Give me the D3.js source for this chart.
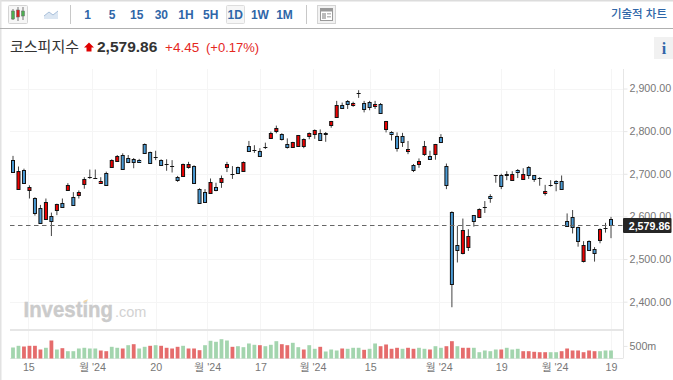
<!DOCTYPE html>
<html>
<head>
<meta charset="utf-8">
<script src="https://cdnjs.cloudflare.com/ajax/libs/d3/7.8.5/d3.min.js"></script>
<style>
  html, body { margin: 0; padding: 0; background: #fff; }
  svg { display: block; }
  text { font-family: "Liberation Sans", "Noto Sans CJK KR", sans-serif; }
</style>
</head>
<body>
<svg id="chart" width="673" height="380"></svg>
<script>
const opens = [2732,2664,2710,2660,2643,2619,2594,2600,2614,2631,2662,2645,2650,2675,2692,2691,2679,2703,2716,2730,
  2743,2736,2734,2732,2770,2750,2740,2732,2723,2719,2693,2695,2714,2718,2665,2657,2656,2668,2680,2715,
  2699,2716,2707,2764,2756,2753,2763,2784,2800,2793,2771,2763,2765,2765,2789,2792,2796,2796,2814,2833,
  2861,2871,2861,2889,2867,2868,2860,2864,2804,2799,2789,2788,2753,2720,2724,2746,2742,2745,2786,2718,
  2611,2532,2513,2530,2603,2599,2622,2648,2696,2698,2699,2685,2710,2688,2716,2696,2690,2656,2674,2683,
  2683,2590,2598,2575,2496,2542,2524,2546,2572,2593]
const closes = [2703,2706,2680,2668,2608,2584,2633,2589,2628,2621,2674,2627,2657,2687,2692,2691,2683,2675,2732,2742,
  2711,2726,2726,2728,2750,2724,2740,2721,2723,2719,2687,2722,2722,2677,2633,2634,2681,2660,2689,2723,
  2699,2702,2727,2753,2756,2742,2763,2796,2807,2781,2763,2774,2790,2782,2796,2802,2779,2793,2823,2861,
  2855,2864,2866,2889,2853,2857,2864,2842,2823,2795,2762,2774,2757,2709,2730,2764,2736,2769,2775,2674,
  2441,2521,2567,2555,2588,2617,2622,2643,2696,2672,2696,2699,2705,2699,2697,2686,2690,2660,2674,2678,
  2664,2579,2575,2542,2534,2521,2514,2571,2572,2580]
const highs = [2742,2717,2712,2673,2645,2627,2642,2609,2630,2642,2678,2657,2661,2692,2710,2710,2692,2705,2734,2744,
  2748,2744,2737,2735,2771,2752,2754,2734,2734,2732,2695,2724,2728,2720,2666,2664,2689,2679,2696,2728,
  2718,2717,2729,2777,2767,2760,2773,2799,2813,2795,2783,2775,2791,2783,2797,2804,2804,2798,2824,2871,
  2867,2873,2869,2896,2871,2871,2871,2866,2824,2800,2797,2796,2777,2723,2736,2777,2754,2770,2793,2724,
  2612,2578,2595,2570,2603,2619,2636,2652,2697,2700,2706,2706,2711,2713,2718,2697,2692,2674,2685,2685,
  2696,2607,2615,2576,2542,2544,2528,2572,2585,2599]
const lows = [2703,2663,2678,2642,2602,2583,2593,2554,2603,2620,2661,2626,2642,2665,2688,2688,2678,2674,2715,2729,
  2710,2725,2713,2726,2749,2724,2732,2720,2707,2703,2681,2695,2712,2676,2632,2634,2655,2659,2667,2704,
  2688,2702,2706,2752,2749,2740,2758,2783,2795,2778,2759,2762,2763,2760,2781,2782,2778,2775,2808,2832,
  2854,2852,2857,2878,2844,2849,2852,2841,2797,2778,2752,2763,2746,2704,2714,2742,2733,2733,2772,2664,
  2387,2492,2511,2519,2576,2598,2608,2632,2679,2664,2685,2684,2690,2688,2688,2681,2672,2649,2670,2659,
  2663,2578,2560,2529,2492,2520,2494,2537,2562,2549]

// millions, green when volumeUp is 1
const volumes = [437,504,476,504,504,357,425,715,357,409,290,290,397,425,397,397,318,290,464,425,
  397,528,568,397,464,504,528,504,425,397,464,504,397,397,330,528,703,663,766,715,
  464,488,449,596,544,528,488,544,687,568,528,623,449,357,528,385,464,278,357,318,
  397,385,425,425,345,385,596,488,556,385,425,385,425,385,425,385,357,488,425,488,
  687,488,425,425,425,250,318,290,357,357,425,357,385,290,290,266,250,250,250,250,
  290,397,318,318,250,318,290,290,318,318]
const volumeUp = [1,1,0,0,0,0,1,0,1,0,1,1,1,1,1,1,0,0,1,1,
  0,1,0,1,1,0,1,0,0,0,0,1,0,0,0,1,1,1,1,1,
  0,1,1,1,1,0,1,1,1,0,0,1,1,0,1,1,0,1,1,1,
  0,1,1,1,0,1,1,0,0,0,0,1,0,0,1,1,0,1,1,0,
  0,1,0,0,1,1,1,1,1,0,1,1,1,0,0,0,0,0,1,1,
  0,0,0,0,0,0,0,1,1,1]

const priceTicks = [2400, 2500, 2600, 2700, 2800, 2900]
const volumeTicks = [500]
// date ticks sit between sessions where the date itself had no trading
const dateTickPos = [2.8, 14.4, 26, 35.4, 45.1, 54.6, 65.1, 77.6, 89, 98.7, 109]
const dateTickLabels = ['15', "월 '24", '20', "월 '24", '17', "월 '24", '15', "월 '24", '19', "월 '24", '19']
const intervals = ['1', '5', '15', '30', '1H', '5H', '1D', '1W', '1M']
const lastPrice = 2579.86

const svg = d3.select('#chart')

const plotLeft = 10
const plotRight = 623
const plotTop = 69
const volBase = 358.5

const x = d3.scaleLinear().domain([0, 109]).range([13, 611])
const y = d3.scaleLinear().domain([2400, 2900]).range([301.7, 88.5])
const yVol = d3.scaleLinear().domain([0, 500]).range([volBase, 345.9])

// page frame
svg.append('rect').attr('width', 673).attr('height', 1.5).attr('fill', '#dcdcdc')
svg.append('rect').attr('width', 1.5).attr('height', 380).attr('fill', '#e2e2e2')
svg.append('rect').attr('y', 28).attr('width', 673).attr('height', 1).attr('fill', '#b0b0b0')

// toolbar
const toolbar = svg.append('g')
toolbar.append('rect').attr('x', 8.5).attr('y', 5.5).attr('width', 19).attr('height', 18)
  .attr('rx', 1).attr('fill', '#f6f6f6').attr('stroke', '#d4d4d4')
const iconCandles = [[13, 10, 18, '#4caf50', 9, 20], [18, 9, 16, '#d92020', 7, 21], [23, 10, 15, '#4caf50', 7, 20]]
iconCandles.forEach(c => {
  toolbar.append('line').attr('x1', c[0]).attr('x2', c[0]).attr('y1', c[4]).attr('y2', c[5]).attr('stroke', '#777')
  toolbar.append('rect').attr('x', c[0] - 1.5).attr('y', c[1] + 1).attr('width', 3).attr('height', c[2] - c[1])
    .attr('fill', c[3]).attr('stroke', '#666').attr('stroke-width', 0.5)
})
toolbar.append('path').attr('d', 'M44 16L49 12L53 15L58 11V19H44Z').attr('fill', '#dbe6f2')
toolbar.append('path').attr('d', 'M44 16L49 12L53 15L58 11').attr('fill', 'none').attr('stroke', '#a9c0da')
toolbar.append('rect').attr('x', 70).attr('y', 5).attr('width', 1).attr('height', 19).attr('fill', '#c8c8c8')
toolbar.append('rect').attr('x', 226.5).attr('y', 5.5).attr('width', 18).attr('height', 18)
  .attr('rx', 1).attr('fill', '#f6f6f6').attr('stroke', '#dddddd')
const intervalX = d3.scalePoint().domain(intervals).range([87.5, 284.5])
toolbar.selectAll('text.interval')
  .data(intervals)
  .join('text')
  .attr('class', 'interval')
  .attr('x', d => intervalX(d))
  .attr('y', 18.5)
  .attr('text-anchor', 'middle')
  .attr('font-size', 12)
  .attr('font-weight', 700)
  .attr('fill', '#2f66a8')
  .text(d => d)
toolbar.append('rect').attr('x', 306).attr('y', 5).attr('width', 1).attr('height', 19).attr('fill', '#c8c8c8')
toolbar.append('rect').attr('x', 317.5).attr('y', 5.5).attr('width', 18).attr('height', 18)
  .attr('fill', '#f2f2f2').attr('stroke', '#d4d4d4')
toolbar.append('rect').attr('x', 320.5).attr('y', 8.5).attr('width', 12).attr('height', 12)
  .attr('fill', '#fff').attr('stroke', '#999')
toolbar.append('rect').attr('x', 321).attr('y', 9).attr('width', 11).attr('height', 2.5).attr('fill', '#999')
toolbar.append('rect').attr('x', 322).attr('y', 13).attr('width', 4).attr('height', 6).attr('fill', '#bbb')
toolbar.append('rect').attr('x', 327).attr('y', 13).attr('width', 4).attr('height', 1.5).attr('fill', '#bbb')
toolbar.append('rect').attr('x', 327).attr('y', 16).attr('width', 4).attr('height', 1.5).attr('fill', '#bbb')
toolbar.append('text').attr('x', 667).attr('y', 18).attr('text-anchor', 'end')
  .attr('font-size', 11.5).attr('font-weight', 500).attr('fill', '#2f66a8').text('기술적 차트')

// title row
svg.append('text').attr('x', 10).attr('y', 51.5).attr('font-size', 15).attr('fill', '#333').text('코스피지수')
svg.append('path').attr('d', 'M89 42.5L94 47.5H91.5V51.5H86.5V47.5H84Z').attr('fill', '#e00000')
svg.append('text').attr('x', 97).attr('y', 52).attr('font-size', 15.5).attr('font-weight', 700)
  .attr('fill', '#333').text(d3.format(',.2f')(lastPrice))
svg.append('text').attr('x', 165).attr('y', 51.5).attr('font-size', 13.5).attr('fill', '#e5281f').text('+4.45')
svg.append('text').attr('x', 206).attr('y', 51.5).attr('font-size', 13).attr('fill', '#e5281f').text('(+0.17%)')
svg.append('rect').attr('x', 654).attr('y', 37).attr('width', 19).attr('height', 22).attr('fill', '#f1f1f1')
svg.append('text').attr('x', 664).attr('y', 54).attr('text-anchor', 'middle').attr('font-size', 16)
  .attr('font-weight', 700).attr('fill', '#2f66a8').style('font-family', '"Liberation Serif", serif').text('i')

// grid
svg.append('g').selectAll('line')
  .data(priceTicks)
  .join('line')
  .attr('x1', plotLeft).attr('x2', plotRight)
  .attr('y1', d => Math.round(y(d)) + 0.5).attr('y2', d => Math.round(y(d)) + 0.5)
  .attr('stroke', '#f5f5f5')
svg.append('g').selectAll('line')
  .data(dateTickPos)
  .join('line')
  .attr('x1', d => Math.round(x(d)) + 0.5).attr('x2', d => Math.round(x(d)) + 0.5)
  .attr('y1', plotTop).attr('y2', volBase)
  .attr('stroke', '#f5f5f5')

// watermark
svg.append('text').attr('x', 23.5).attr('y', 317).attr('font-size', 21.5).attr('font-weight', 700)
  .attr('textLength', 89.5).attr('lengthAdjust', 'spacingAndGlyphs')
  .attr('fill', '#cbcbcb').attr('stroke', '#cbcbcb').attr('stroke-width', 0.4).text('Investing')
svg.append('text').attr('x', 115).attr('y', 317).attr('font-size', 14.5)
  .attr('fill', '#d2d2d2').text('.com')
svg.append('path').attr('d', 'M83 302.5Q85 299 88 299.5Q87 302.5 83 302.5Z').attr('fill', '#f4d9a8')

// panel separator and axis rules
svg.append('rect').attr('x', plotLeft).attr('y', 329).attr('width', plotRight - plotLeft).attr('height', 2).attr('fill', '#e6e6e6')
svg.append('line').attr('x1', plotLeft).attr('x2', plotRight).attr('y1', 358.5).attr('y2', 358.5).attr('stroke', '#e6e6e6')

// volume
svg.append('g').selectAll('rect')
  .data(volumes)
  .join('rect')
  .attr('x', (d, i) => x(i) - 1.9)
  .attr('width', 3.8)
  .attr('y', d => yVol(d))
  .attr('height', d => yVol(0) - yVol(d))
  .attr('fill', (d, i) => volumeUp[i] ? '#a3d5ae' : '#e56c6c')

// candles, left on sub pixel x so the edges soften like the original
const candles = svg.append('g').selectAll('g')
  .data(opens)
  .join('g')
candles.append('line')
  .attr('x1', (d, i) => x(i))
  .attr('x2', (d, i) => x(i))
  .attr('y1', (d, i) => y(highs[i]))
  .attr('y2', (d, i) => y(lows[i]))
  .attr('stroke', '#444')
// a zero height rect is not painted at all, dojis need a sliver for the stroke
candles.append('rect')
  .attr('x', (d, i) => x(i) - 1.5)
  .attr('width', 3)
  .attr('y', (d, i) => Math.round(y(Math.max(d, closes[i]))) + 0.5)
  .attr('height', (d, i) => Math.max(0.01, Math.round(Math.abs(y(d) - y(closes[i])))))
  .attr('fill', (d, i) => closes[i] > d ? '#ee0000' : '#4a9ad4')
  .attr('stroke', '#111')

// last price line
svg.append('line')
  .attr('x1', plotLeft).attr('x2', plotRight)
  .attr('y1', Math.round(y(lastPrice)) + 0.5).attr('y2', Math.round(y(lastPrice)) + 0.5)
  .attr('stroke', '#666')
  .attr('stroke-dasharray', '4.5,3.5')

// axes
const yAxis = d3.axisRight(y).tickValues(priceTicks).tickFormat(d3.format(',.2f')).tickSize(4).tickPadding(2)
const gy = svg.append('g').attr('transform', `translate(${plotRight + 0.5},0)`).call(yAxis)
gy.select('.domain').remove()
gy.append('line').attr('y1', plotTop).attr('y2', volBase).attr('stroke', '#e6e6e6')

const yVolAxis = d3.axisRight(yVol).tickValues(volumeTicks).tickFormat(d => d + 'm').tickSize(4).tickPadding(2)
const gyVol = svg.append('g').attr('transform', `translate(${plotRight + 0.5},0)`).call(yVolAxis)
gyVol.select('.domain').remove()

const xAxis = d3.axisBottom(x).tickValues(dateTickPos)
  .tickFormat((d, i) => dateTickLabels[i]).tickSize(0).tickPadding(5)
const gx = svg.append('g').attr('transform', `translate(0,${volBase})`).call(xAxis)
gx.select('.domain').remove()

svg.selectAll('.tick line').attr('stroke', '#e6e6e6')
svg.selectAll('.tick text').attr('fill', '#777').attr('font-size', 10.7)
  .style('font-family', '"Liberation Sans", "Noto Sans CJK KR", sans-serif')

// last price tag
svg.append('rect').attr('x', 623).attr('y', Math.round(y(lastPrice)) - 7).attr('width', 48.5).attr('height', 15)
  .attr('rx', 1).attr('fill', '#262626')
svg.append('text').attr('x', 649.5).attr('y', Math.round(y(lastPrice)) + 4.5).attr('text-anchor', 'middle')
  .attr('font-size', 10.7).attr('font-weight', 700).attr('fill', '#fff').text(d3.format(',.2f')(lastPrice))
</script>
</body>
</html>
